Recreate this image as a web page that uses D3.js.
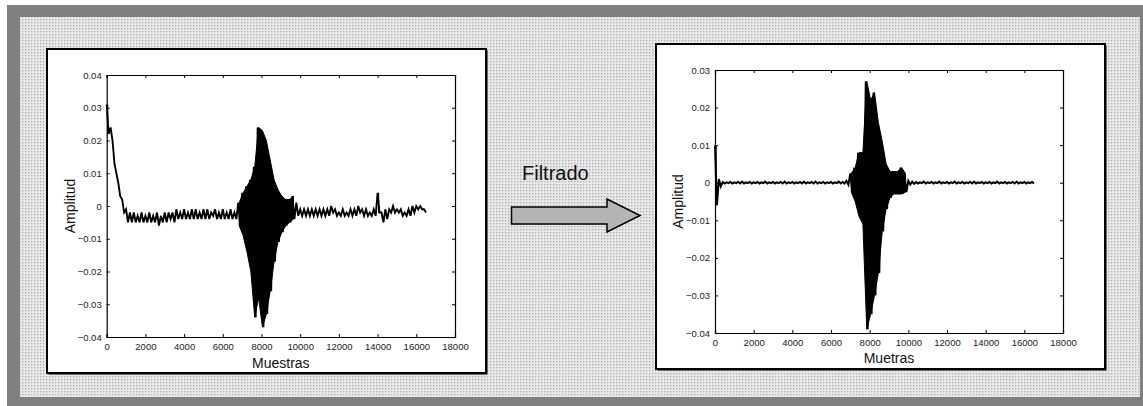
<!DOCTYPE html>
<html><head><meta charset="utf-8">
<script src="https://cdn.jsdelivr.net/npm/d3@7"></script>
<style>
html,body{margin:0;padding:0;background:#fff;}
svg{display:block;font-family:"Liberation Sans",Arial,sans-serif;}
</style></head>
<body>
<svg id="c" width="1143" height="406"></svg>
<script>
// bin start positions (samples), every 200 samples
const binSize = 200;
// Left chart (raw signal): upper / lower envelope per bin
const rawHi = [0.031,0.024,0.013,0.007,0.002,-0.001,-0.002,-0.002,-0.003,-0.002,
  -0.003,-0.002,-0.003,-0.002,-0.003,-0.002,-0.002,-0.002,-0.001,-0.002,
  -0.001,-0.002,-0.001,-0.001,-0.002,-0.001,-0.001,-0.002,-0.001,-0.002,
  -0.001,-0.002,-0.001,-0.002,0.001,0.004,0.006,0.008,0.012,0.024,
  0.023,0.020,0.014,0.008,0.005,0.003,0.002,0.002,0.003,0.001,
  -0.001,-0.001,-0.001,-0.001,-0.001,-0.001,-0.001,-0.001,0.000,-0.001,
  -0.002,-0.001,-0.002,-0.001,-0.001,0.000,-0.001,-0.001,-0.002,-0.001,
  0.004,-0.002,-0.001,-0.001,0.000,-0.001,-0.001,-0.002,-0.001,0.000,
  0.000,0.000,-0.001];
const rawLo = [0.022,0.020,0.010,0.003,-0.002,-0.005,-0.005,-0.005,-0.005,-0.005,
  -0.005,-0.005,-0.005,-0.006,-0.005,-0.005,-0.004,-0.005,-0.004,-0.004,
  -0.004,-0.004,-0.004,-0.004,-0.004,-0.004,-0.004,-0.003,-0.004,-0.004,
  -0.004,-0.004,-0.004,-0.004,-0.006,-0.009,-0.014,-0.020,-0.034,-0.028,
  -0.037,-0.033,-0.026,-0.017,-0.011,-0.008,-0.006,-0.005,-0.004,-0.003,
  -0.003,-0.003,-0.003,-0.003,-0.003,-0.003,-0.003,-0.003,-0.002,-0.003,
  -0.003,-0.003,-0.003,-0.003,-0.003,-0.002,-0.003,-0.003,-0.003,-0.003,
  -0.002,-0.005,-0.004,-0.002,-0.002,-0.002,-0.003,-0.003,-0.003,-0.002,
  -0.001,-0.001,-0.002];
// Right chart (filtered signal)
const filtHi = [0.010,0.001,0.0002,0.0001,0.0002,0.0001,0.0002,0.0003,0.0001,0.0002,
  0.0001,0.0002,0.0001,0.0003,0.0001,0.0002,0.0001,0.0002,0.0003,0.0001,
  0.0002,0.0001,0.0002,0.0003,0.0001,0.0002,0.0003,0.0001,0.0002,0.0001,
  0.0002,0.0001,0.0003,0.0002,0.0005,0.0025,0.004,0.008,0.008,0.027,
  0.022,0.024,0.016,0.011,0.005,0.003,0.003,0.003,0.004,0.0025,
  0.0005,0.0003,0.0002,0.0001,0.0003,0.0001,0.0002,0.0001,0.0003,0.0001,
  0.0002,0.0001,0.0003,0.0001,0.0002,0.0001,0.0002,0.0003,0.0001,0.0002,
  0.0001,0.0002,0.0001,0.0003,0.0001,0.0002,0.0001,0.0002,0.0003,0.0001,
  0.0002,0.0001,0.0002];
const filtLo = [-0.006,-0.001,-0.0002,-0.0001,-0.0002,-0.0001,-0.0002,-0.0002,-0.0001,-0.0002,
  -0.0001,-0.0002,-0.0001,-0.0002,-0.0001,-0.0002,-0.0001,-0.0002,-0.0002,-0.0001,
  -0.0002,-0.0001,-0.0002,-0.0002,-0.0001,-0.0002,-0.0002,-0.0001,-0.0002,-0.0001,
  -0.0002,-0.0001,-0.0002,-0.0002,-0.0005,-0.0025,-0.005,-0.009,-0.011,-0.039,
  -0.035,-0.030,-0.024,-0.013,-0.007,-0.004,-0.003,-0.003,-0.003,-0.0025,
  -0.0005,-0.0003,-0.0002,-0.0001,-0.0002,-0.0001,-0.0002,-0.0001,-0.0002,-0.0001,
  -0.0002,-0.0001,-0.0002,-0.0001,-0.0002,-0.0001,-0.0002,-0.0002,-0.0001,-0.0002,
  -0.0001,-0.0002,-0.0001,-0.0002,-0.0001,-0.0002,-0.0001,-0.0002,-0.0002,-0.0001,
  -0.0002,-0.0001,-0.0002];
const xTicks = [0,2000,4000,6000,8000,10000,12000,14000,16000,18000];
const yTicksLeft = [0.04,0.03,0.02,0.01,0,-0.01,-0.02,-0.03,-0.04];
const yTicksRight = [0.03,0.02,0.01,0,-0.01,-0.02,-0.03,-0.04];
const xLabels = ["Muestras","Muetras"];
const yLabel = "Amplitud";
const arrowLabel = "Filtrado";
// bins whose envelope is wider than this are drawn as a solid (dense) burst
const denseRange = 0.0045;

const svg = d3.select("#c");
const defs = svg.append("defs");
const pat = defs.append("pattern").attr("id","dots").attr("patternUnits","userSpaceOnUse")
  .attr("width",3).attr("height",3);
pat.append("rect").attr("width",3).attr("height",3).attr("fill","#e8e8e8");
pat.append("rect").attr("x",1).attr("y",1).attr("width",1.3).attr("height",1.3).attr("fill","#acacac");

// outer frame
svg.append("rect").attr("x",7).attr("y",5).attr("width",1136).attr("height",401).attr("fill","#808080");
svg.append("rect").attr("x",20).attr("y",17).attr("width",1120).attr("height",380).attr("fill","url(#dots)");

function panel(box, plot, hi, lo, yDomain, yTicks, xLab, xLabY, yLabX, lw){
  const g = svg.append("g");
  g.append("rect").attr("x",box.x+1.5).attr("y",box.y+1.5).attr("width",box.w).attr("height",box.h).attr("fill","#000");
  g.append("rect").attr("x",box.x).attr("y",box.y).attr("width",box.w).attr("height",box.h)
    .attr("fill","#fff").attr("stroke","#000").attr("stroke-width",2);
  const x = d3.scaleLinear().domain([0,18000]).range([plot.x0,plot.x1]);
  const y = d3.scaleLinear().domain(yDomain).range([plot.y1,plot.y0]);
  const fmt = d => d===0 ? "0" : d3.format(".2f")(d);
  // axes
  const ax = d3.axisBottom(x).tickValues(xTicks).tickSize(-3).tickPadding(6).tickFormat(d3.format("d"));
  const axT = d3.axisTop(x).tickValues(xTicks).tickSize(-3).tickFormat("");
  const ay = d3.axisLeft(y).tickValues(yTicks).tickSize(-3).tickPadding(5).tickFormat(fmt);
  const ayR = d3.axisRight(y).tickValues(yTicks).tickSize(-3).tickFormat("");
  const styleAx = s => { s.selectAll("path").attr("stroke","#000").attr("stroke-width",1.2);
    s.selectAll("line").attr("stroke","#000");
    s.selectAll("text").attr("fill","#222").style("font-size","9.5px").style("font-family","Liberation Sans, Arial, sans-serif"); };
  g.append("g").attr("transform",`translate(0,${plot.y1})`).call(ax).call(styleAx);
  g.append("g").attr("transform",`translate(0,${plot.y0})`).call(axT).call(styleAx);
  g.append("g").attr("transform",`translate(${plot.x0},0)`).call(ay).call(styleAx);
  g.append("g").attr("transform",`translate(${plot.x1},0)`).call(ayR).call(styleAx);
  // dense burst: filled envelope
  const bins = hi.map((v,i)=>({s:i*binSize+binSize/4, hi:v, lo:lo[i]}));
  const area = d3.area().defined(d=>d.hi-d.lo>denseRange)
    .x(d=>x(d.s)).y0(d=>y(d.lo)).y1(d=>y(d.hi));
  g.append("path").attr("d",area(bins)).attr("fill","#000").attr("stroke","#000").attr("stroke-width",1);
  // signal as zigzag between envelope values
  const pts = [];
  hi.forEach((v,i)=>{ pts.push([i*binSize, v]); pts.push([i*binSize+binSize/2, lo[i]]); });
  const line = d3.line().x(d=>x(d[0])).y(d=>y(d[1]));
  g.append("path").attr("d",line(pts)).attr("fill","none").attr("stroke","#000").attr("stroke-width",lw);
  g.append("text").attr("x",(plot.x0+plot.x1)/2).attr("y",xLabY).attr("text-anchor","middle")
    .style("font-size","14px").attr("fill","#111").text(xLab);
  g.append("text").attr("transform",`translate(${yLabX},${(plot.y0+plot.y1)/2}) rotate(-90)`)
    .attr("text-anchor","middle").style("font-size","14px").attr("fill","#111").text(yLabel);
}

panel({x:47,y:49,w:439,h:324},{x0:106.7,x1:455,y0:75,y1:337},rawHi,rawLo,[-0.04,0.04],yTicksLeft,xLabels[0],368,75,1.9);
panel({x:656,y:44,w:449,h:325},{x0:715,x1:1063,y0:70,y1:333},filtHi,filtLo,[-0.04,0.03],yTicksRight,xLabels[1],363,683,2);

// arrow
svg.append("text").attr("x",522).attr("y",180).style("font-size","20px").attr("fill","#111").text(arrowLabel);
svg.append("path").attr("d","M511.5,207 L607,207 L607,199 L640,215.5 L607,232 L607,224 L511.5,224 Z")
  .attr("fill","#b4b4b4").attr("stroke","#000").attr("stroke-width",1.5);
</script>
</body></html>
